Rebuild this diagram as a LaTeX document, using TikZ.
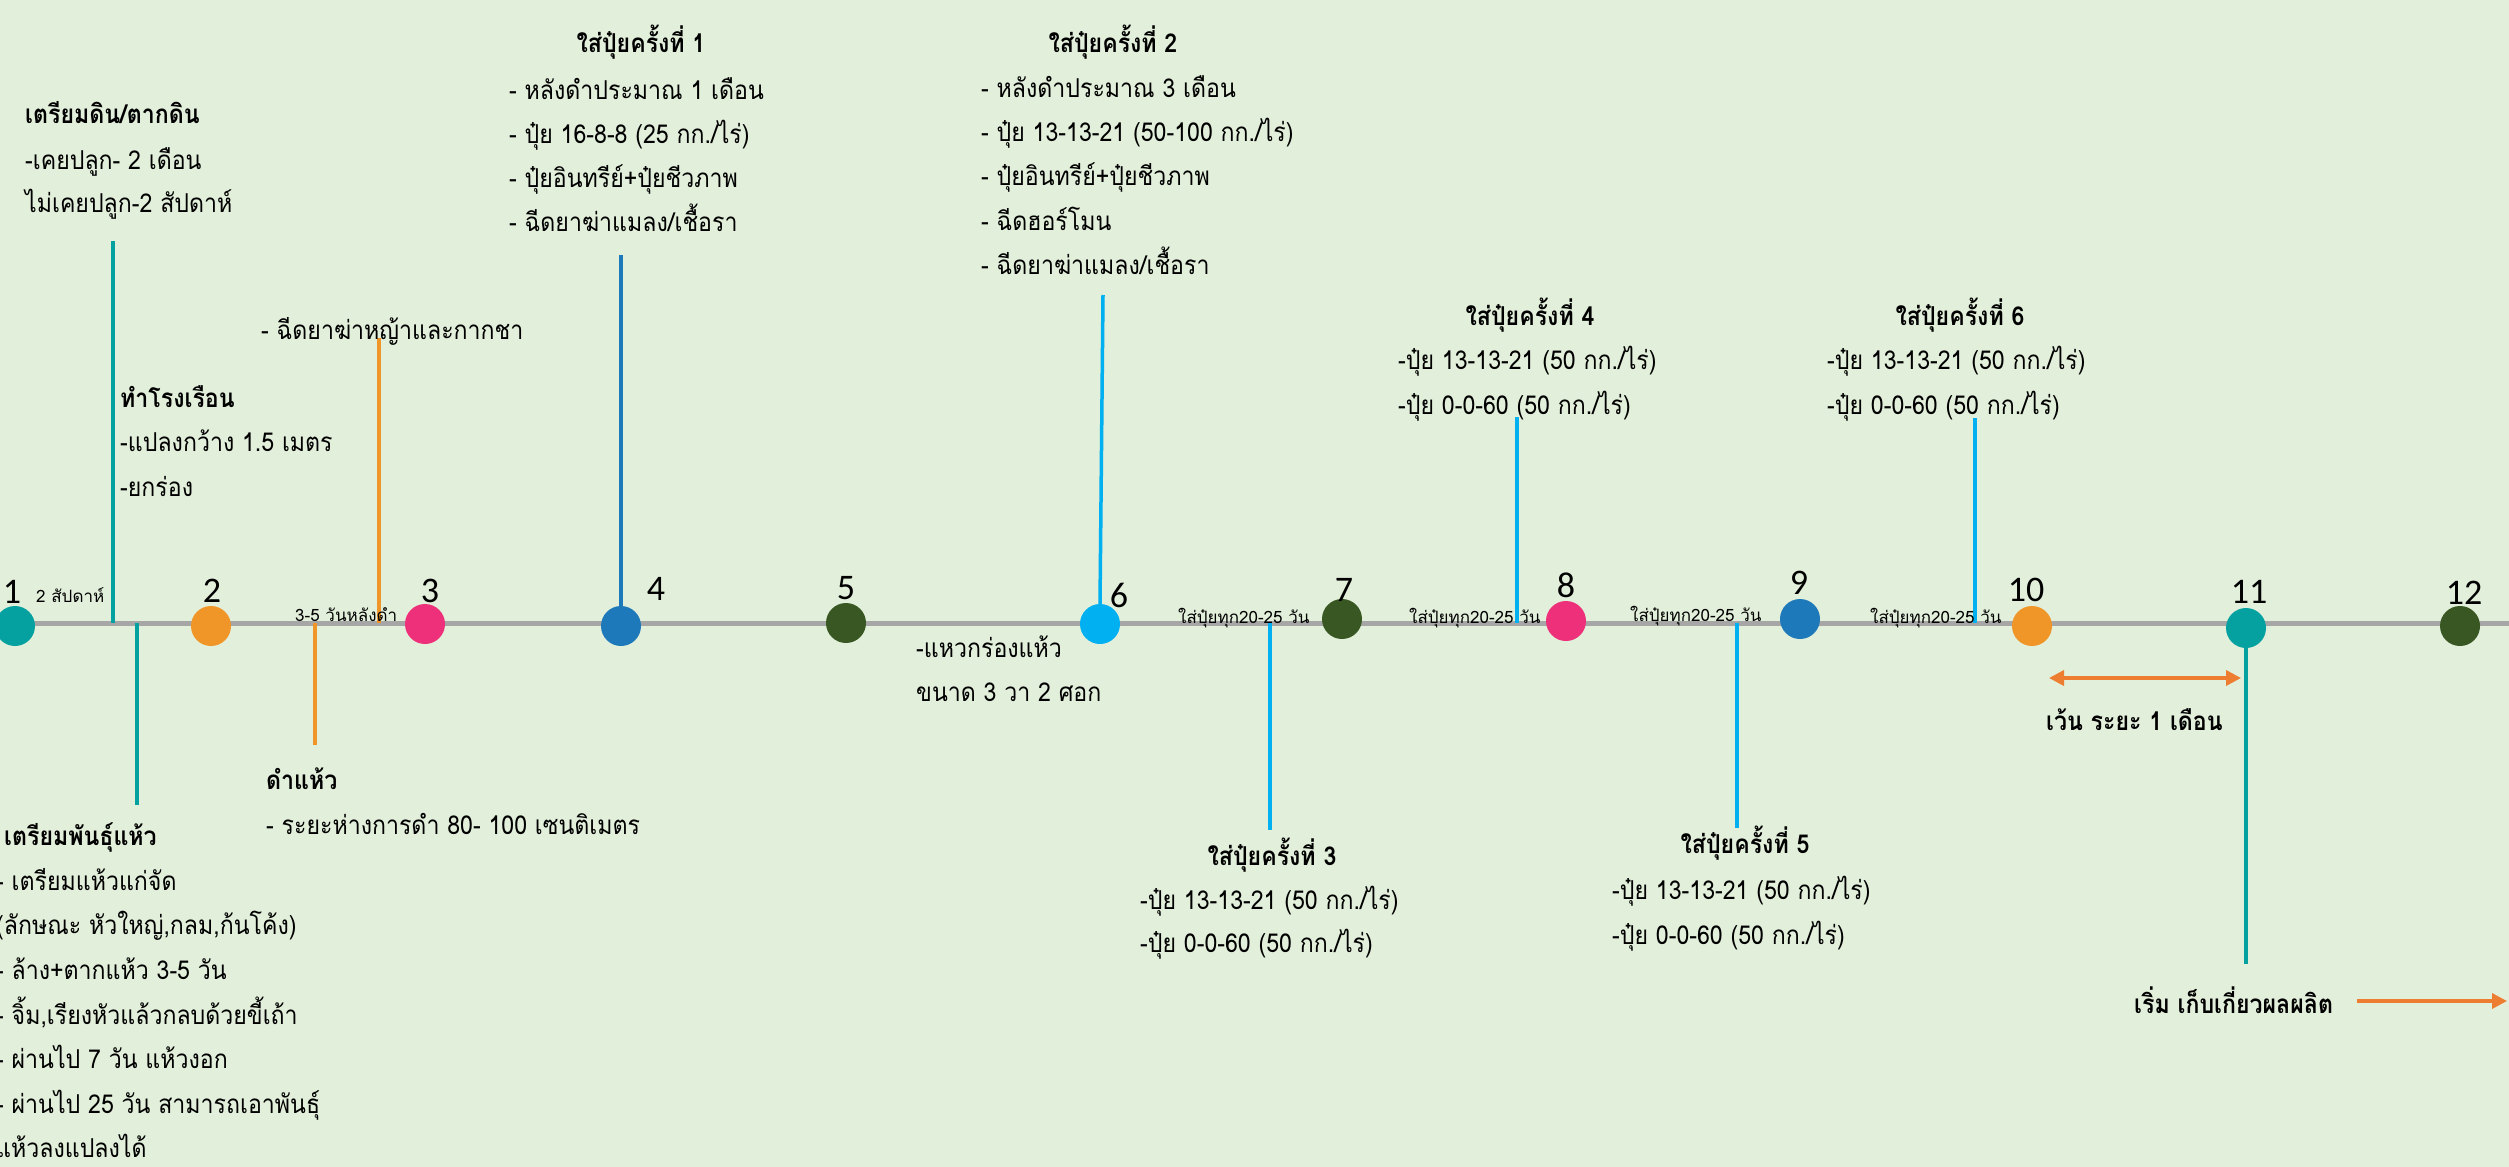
\documentclass[tikz,border=0pt]{standalone}
\usepackage{fontspec}
\setmainfont[Script=Thai,FakeStretch=0.89]{Loma}
\newfontfamily\plainthai[Script=Thai]{Loma}
\newfontfamily\numfont{Carlito}
\usetikzlibrary{arrows.meta}
\definecolor{bg}{RGB}{226,239,218}
\definecolor{lgray}{RGB}{166,166,166}
\definecolor{cteal}{RGB}{5,161,160}
\definecolor{corange}{RGB}{240,149,40}
\definecolor{cpink}{RGB}{238,48,122}
\definecolor{cblue}{RGB}{30,121,186}
\definecolor{cgreen}{RGB}{56,87,35}
\definecolor{ccyan}{RGB}{0,176,240}
\definecolor{arrowor}{RGB}{237,125,49}
\begin{document}
\begin{tikzpicture}[x=1pt,y=-1pt,
  body/.style={font=\fontsize{26}{30}\selectfont, inner sep=0pt, anchor=base west},
  ttl/.style={font=\bfseries\fontsize{26}{30}\selectfont, inner sep=0pt, anchor=base},
  bttl/.style={font=\bfseries\fontsize{26}{30}\selectfont, inner sep=0pt, anchor=base west},
  small/.style={font=\plainthai\fontsize{17}{20}\selectfont, inner sep=0pt, anchor=base west},
  num/.style={font=\numfont\fontsize{36}{40}\selectfont, inner sep=0pt, anchor=center},
  dot/.style={circle, minimum size=40pt, inner sep=0pt, draw=none},
  vline/.style={line width=3.5pt},
  oarrow/.style={draw=arrowor, line width=3.5pt},
]
\fill[bg] (0,0) rectangle (2509,1167);
\useasboundingbox (0,0) rectangle (2509,1167);

% timeline
\coordinate (tl0) at (0,623);
\coordinate (tl1) at (2509,623);
\draw[lgray, line width=5pt] (tl0) -- (tl1);

% vertical connectors
\coordinate (c1a) at (113,241); \coordinate (c1b) at (113,623);
\coordinate (c2a) at (137,623); \coordinate (c2b) at (137,805);
\coordinate (c3a) at (379,338); \coordinate (c3b) at (379,623);
\coordinate (c4a) at (315,623); \coordinate (c4b) at (315,745);
\coordinate (c5a) at (621,255);
\coordinate (c6a) at (1103,295);
\coordinate (c7a) at (1270,623); \coordinate (c7b) at (1270,830);
\coordinate (c8a) at (1517,417); \coordinate (c8b) at (1517,623);
\coordinate (c9a) at (1737,623); \coordinate (c9b) at (1737,828);
\coordinate (c10a) at (1975,418); \coordinate (c10b) at (1975,623);
\coordinate (c11b) at (2246,964);

% circles
\node[dot, fill=cteal]   (n1)  at (15,626) {};
\node[dot, fill=corange] (n2)  at (211,626) {};
\node[dot, fill=cpink]   (n3)  at (425,624) {};
\node[dot, fill=cblue]   (n4)  at (621,626) {};
\node[dot, fill=cgreen]  (n5)  at (846,623) {};
\node[dot, fill=ccyan]   (n6)  at (1100,624) {};
\node[dot, fill=cgreen]  (n7)  at (1342,619) {};
\node[dot, fill=cpink]   (n8)  at (1566,621) {};
\node[dot, fill=cblue]   (n9)  at (1800,619) {};
\node[dot, fill=corange] (n10) at (2032,626) {};
\node[dot, fill=cteal]   (n11) at (2246,628) {};
\node[dot, fill=cgreen]  (n12) at (2460,626) {};

\draw[vline, cteal] (c1a) -- (c1b);
\draw[vline, cteal] (c2a) -- (c2b);
\draw[vline, corange] (c3a) -- (c3b);
\draw[vline, corange] (c4a) -- (c4b);
\draw[vline, cblue] (c5a) -- (n4.north);
\draw[vline, ccyan] (c6a) -- (n6.north);
\draw[vline, ccyan] (c7a) -- (c7b);
\draw[vline, ccyan] (c8a) -- (c8b);
\draw[vline, ccyan] (c9a) -- (c9b);
\draw[vline, ccyan] (c10a) -- (c10b);
\draw[vline, cteal] (n11.south) -- (c11b);

% number labels
\node[num] (l1)  at (12,592) {1};
\node[num] (l2)  at (212,591) {2};
\node[num] (l3)  at (430,591) {3};
\node[num] (l4)  at (656,589) {4};
\node[num] (l5)  at (846,588) {5};
\node[num] (l6)  at (1119,595) {6};
\node[num] (l7)  at (1344,590) {7};
\node[num] (l8)  at (1566,585) {8};
\node[num] (l9)  at (1799,583) {9};
\node[num] (l10) at (2026,590) {10};
\node[num] (l11) at (2249,592) {11};
\node[num] (l12) at (2464,593) {12};

% small labels
\node[small] (s1) at (36,602) {2 สัปดาห์};
\node[small] (s2) at (295,621) {3-5 วันหลังดำ};
\node[small] (s3) at (1178,623) {ใส่ปุ๋ยทุก20-25 วัน};
\node[small] (s4) at (1409,623) {ใส่ปุ๋ยทุก20-25 วัน};
\node[small] (s5) at (1630,621) {ใส่ปุ๋ยทุก20-25 วัน};
\node[small] (s6) at (1870,623) {ใส่ปุ๋ยทุก20-25 วัน};

% block A
\node[bttl] (a0) at (25,123) {เตรียมดิน/ตากดิน};
\node[body] (a1) at (25,169) {-เคยปลูก- 2 เดือน};
\node[body] (a2) at (25,212) {ไม่เคยปลูก-2 สัปดาห์};
% block B
\node[bttl] (b0) at (120,407) {ทำโรงเรือน};
\node[body] (b1) at (120,451) {-แปลงกว้าง 1.5 เมตร};
\node[body] (b2) at (120,496) {-ยกร่อง};
% block C
\node[body] (c0) at (261,339) {- ฉีดยาฆ่าหญ้าและกากชา};
% block D
\node[bttl] (d0) at (266,789) {ดำแห้ว};
\node[body] (d1) at (266,834) {- ระยะห่างการดำ 80- 100 เซนติเมตร};
% block E
\node[bttl] (e0) at (4,845) {เตรียมพันธุ์แห้ว};
\node[body] (e1) at (-4,890) {- เตรียมแห้วแก่จัด};
\node[body] (e2) at (-4,934) {(ลักษณะ หัวใหญ่,กลม,ก้นโค้ง)};
\node[body] (e3) at (-4,979) {- ล้าง+ตากแห้ว 3-5 วัน};
\node[body] (e4) at (-4,1024) {- จิ้ม,เรียงหัวแล้วกลบด้วยขี้เถ้า};
\node[body] (e5) at (-4,1068) {- ผ่านไป 7 วัน แห้วงอก};
\node[body] (e6) at (-4,1113) {- ผ่านไป 25 วัน สามารถเอาพันธุ์};
\node[body] (e7) at (-4,1157) {แห้วลงแปลงได้};
% block F : fertiliser 1
\node[ttl]  (f0) at (641,52) {ใส่ปุ๋ยครั้งที่ 1};
\node[body] (f1) at (509,99) {- หลังดำประมาณ 1 เดือน};
\node[body] (f2) at (509,143) {- ปุ๋ย 16-8-8 (25 กก./ไร่)};
\node[body] (f3) at (509,187) {- ปุ๋ยอินทรีย์+ปุ๋ยชีวภาพ};
\node[body] (f4) at (509,231) {- ฉีดยาฆ่าแมลง/เชื้อรา};
% block G : fertiliser 2
\node[ttl]  (g0) at (1113,52) {ใส่ปุ๋ยครั้งที่ 2};
\node[body] (g1) at (981,97) {- หลังดำประมาณ 3 เดือน};
\node[body] (g2) at (981,141) {- ปุ๋ย 13-13-21 (50-100 กก./ไร่)};
\node[body] (g3) at (981,185) {- ปุ๋ยอินทรีย์+ปุ๋ยชีวภาพ};
\node[body] (g4) at (981,230) {- ฉีดฮอร์โมน};
\node[body] (g5) at (981,274) {- ฉีดยาฆ่าแมลง/เชื้อรา};
% block H : fertiliser 4
\node[ttl]  (h0) at (1530,325) {ใส่ปุ๋ยครั้งที่ 4};
\node[body] (h1) at (1398,369) {-ปุ๋ย 13-13-21 (50 กก./ไร่)};
\node[body] (h2) at (1398,414) {-ปุ๋ย 0-0-60 (50 กก./ไร่)};
% block I : fertiliser 6
\node[ttl]  (i0) at (1960,325) {ใส่ปุ๋ยครั้งที่ 6};
\node[body] (i1) at (1827,369) {-ปุ๋ย 13-13-21 (50 กก./ไร่)};
\node[body] (i2) at (1827,414) {-ปุ๋ย 0-0-60 (50 กก./ไร่)};
% block J : fertiliser 3
\node[ttl]  (j0) at (1272,865) {ใส่ปุ๋ยครั้งที่ 3};
\node[body] (j1) at (1140,909) {-ปุ๋ย 13-13-21 (50 กก./ไร่)};
\node[body] (j2) at (1140,952) {-ปุ๋ย 0-0-60 (50 กก./ไร่)};
% block K : fertiliser 5
\node[ttl]  (k0) at (1745,853) {ใส่ปุ๋ยครั้งที่ 5};
\node[body] (k1) at (1612,899) {-ปุ๋ย 13-13-21 (50 กก./ไร่)};
\node[body] (k2) at (1612,944) {-ปุ๋ย 0-0-60 (50 กก./ไร่)};
% block L
\node[body] (m1) at (916,657) {-แหวกร่องแห้ว};
\node[body] (m2) at (916,701) {ขนาด 3 วา 2 ศอก};
% arrows and texts
\node[bttl] (gap) at (2046,730) {เว้น ระยะ 1 เดือน};
\coordinate (ga) at (2049,678); \coordinate (gb) at (2241,678);
\draw[oarrow, {Triangle[length=15pt,width=15pt]}-{Triangle[length=15pt,width=15pt]}] (ga) -- (gb);
\node[bttl] (harv) at (2134,1013) {เริ่ม เก็บเกี่ยวผลผลิต};
\coordinate (ha) at (2357,1001);
\coordinate (hb) at (2507,1001);
\draw[oarrow, -{Triangle[length=15pt,width=15pt]}] (ha) -- (hb);
\end{tikzpicture}
\end{document}
